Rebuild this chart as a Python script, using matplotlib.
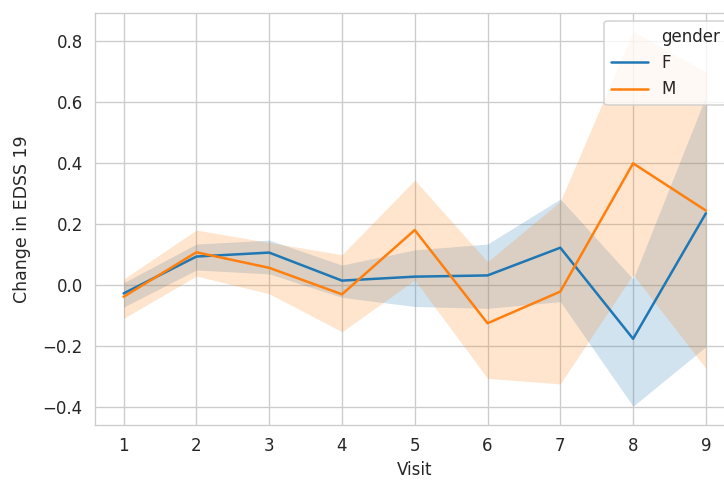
import matplotlib
matplotlib.use("Agg")
import matplotlib.pyplot as plt
from matplotlib.lines import Line2D
import seaborn as sns

visits = [1, 2, 3, 4, 5, 6, 7, 8, 9]
F_mean = [-0.027, 0.094, 0.107, 0.015, 0.028, 0.032, 0.123, -0.176, 0.236]
F_lo = [-0.072, 0.050, 0.037, -0.040, -0.070, -0.076, -0.054, -0.3975, -0.202]
F_hi = [0.008, 0.135, 0.148, 0.066, 0.116, 0.135, 0.283, 0.020, 0.620]
M_mean = [-0.038, 0.108, 0.057, -0.030, 0.181, -0.125, -0.021, 0.400, 0.245]
M_lo = [-0.109, 0.030, -0.028, -0.153, 0.017, -0.306, -0.324, 0.035, -0.273]
M_hi = [0.020, 0.181, 0.140, 0.100, 0.345, 0.077, 0.275, 0.833, 0.700]
groups = ["F", "M"]
hue_title = "gender"

sns.set_style("whitegrid")
plt.rcParams['font.family'] = ['DejaVu Sans']

dpi = 120
fig = plt.figure(figsize=(724 / dpi, 480 / dpi), dpi=dpi)
ax = fig.add_axes([94.5 / 724, 55 / 480, 640.5 / 724, 412.3 / 480])

colors = ["#1f77b4", "#ff7f0e"]
series = [(F_mean, F_lo, F_hi), (M_mean, M_lo, M_hi)]
handles = [Line2D([], [], color="none", linewidth=0)]
for (m, lo, hi), c in zip(series, colors):
    ax.plot(visits, m, color=c, linewidth=1.5)
    ax.fill_between(visits, lo, hi, color=c, alpha=0.2, linewidth=0)
    handles.append(Line2D([], [], color=c, linewidth=1.5))

ax.set_xlim(0.6, 9.4)
ax.set_xticks(visits)
ax.set_xlabel("Visit")
ax.set_ylabel("Change in EDSS 19", labelpad=7, fontsize=10.4)
ax.legend(handles, [hue_title] + groups, loc="upper right", handlelength=2.2)

fig.savefig("out.png", dpi=dpi)
